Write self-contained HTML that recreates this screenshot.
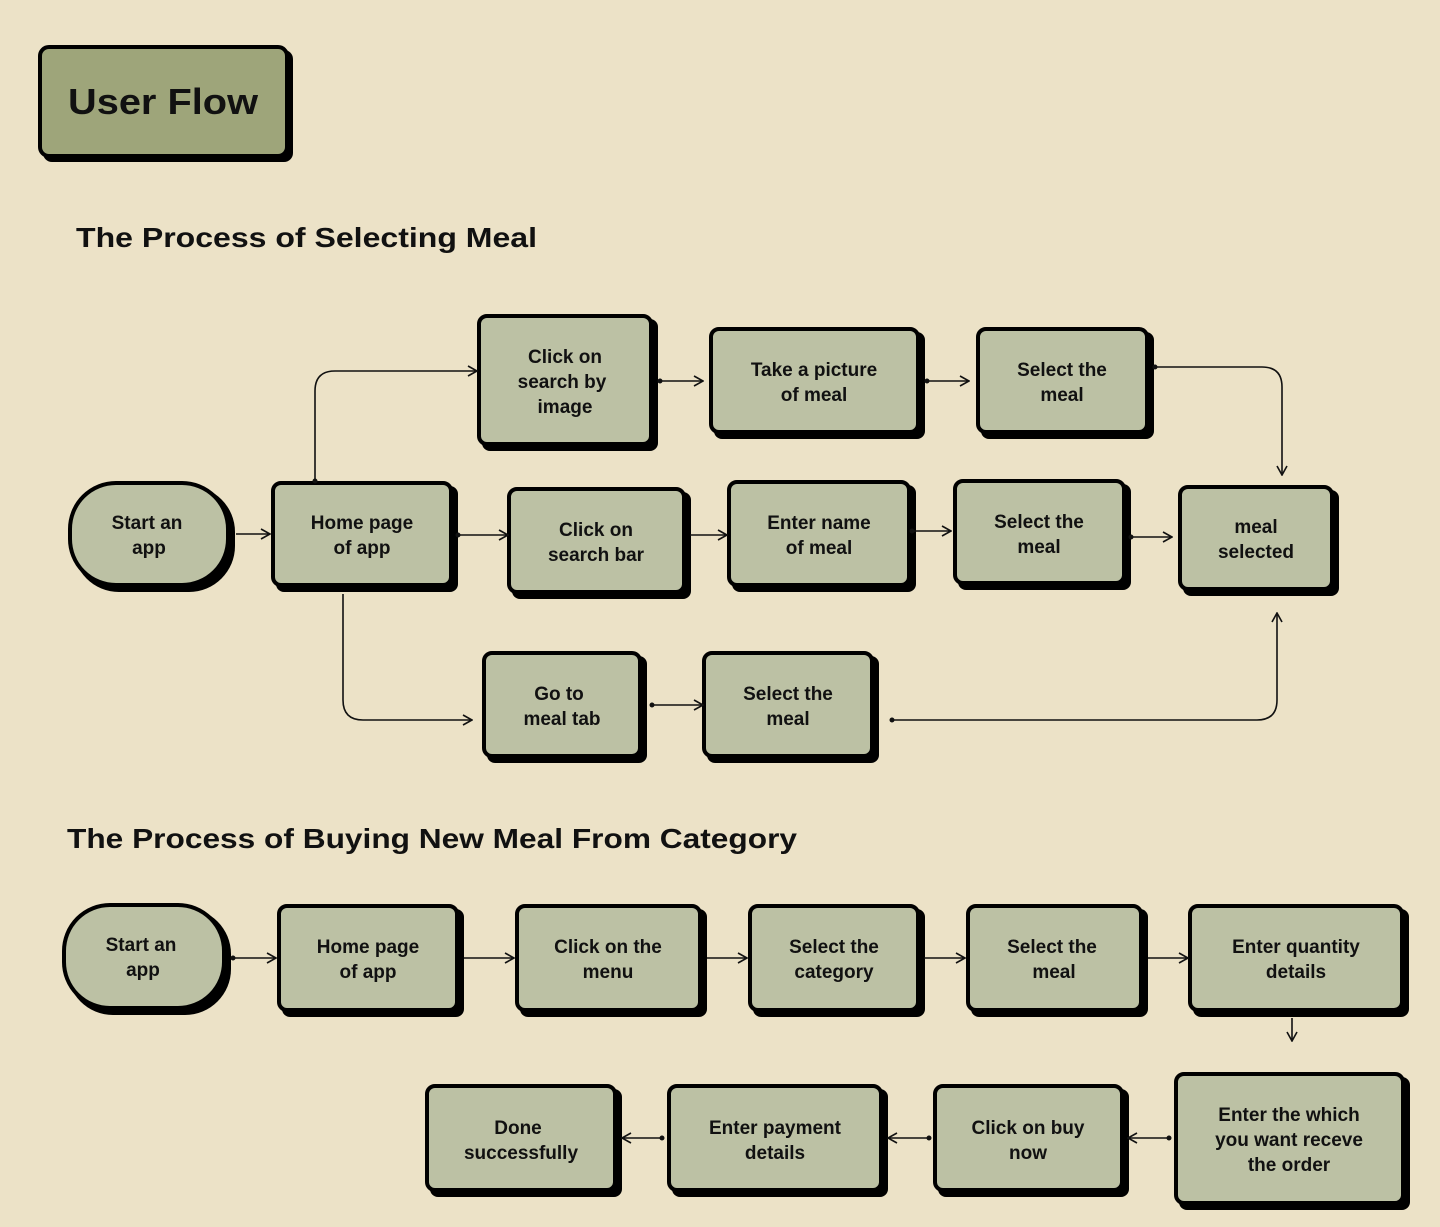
<!DOCTYPE html>
<html><head><meta charset="utf-8"><style>
html,body{margin:0;padding:0;background:#ece2c7;}
svg{display:block}
text{font-family:"Liberation Sans",sans-serif;font-weight:bold;fill:#111;}
.t{font-size:19px;text-anchor:middle;}
.ln{fill:none;stroke:#111;stroke-width:1.6;}
</style></head><body>
<svg width="1440" height="1227" viewBox="0 0 1440 1227" xmlns="http://www.w3.org/2000/svg">
<defs>
<marker id="a" viewBox="0 0 12 12" refX="11" refY="6" markerWidth="12" markerHeight="12" markerUnits="userSpaceOnUse" orient="auto">
<path d="M2,1 L11,6 L2,11" fill="none" stroke="#111" stroke-width="1.6"/></marker>
<marker id="d" viewBox="0 0 6 6" refX="3" refY="3" markerWidth="6" markerHeight="6" markerUnits="userSpaceOnUse"><circle cx="3" cy="3" r="2.5" fill="#111"/></marker>
</defs>
<rect width="1440" height="1227" fill="#ece2c7"/>
<rect x="43" y="50" width="250" height="112" rx="9" fill="#000"/>
<rect x="40" y="47" width="247" height="109" rx="9" fill="#9ea57a" stroke="#000" stroke-width="4"/>
<text x="68" y="114" style="font-size:36px" textLength="190" lengthAdjust="spacingAndGlyphs">User Flow</text>
<text x="76" y="247" style="font-size:28px" textLength="461" lengthAdjust="spacingAndGlyphs">The Process of Selecting Meal</text>
<text x="67" y="848" style="font-size:28px" textLength="730" lengthAdjust="spacingAndGlyphs">The Process of Buying New Meal From Category</text>

<g id="boxes">
<rect x="73" y="486" width="162" height="106" rx="46" fill="#000"/>
<rect x="70" y="483" width="158" height="102" rx="46" fill="#bcc1a4" stroke="#000" stroke-width="4"/>
<rect x="276" y="486" width="182" height="106" rx="8" fill="#000"/>
<rect x="273" y="483" width="178" height="102" rx="8" fill="#bcc1a4" stroke="#000" stroke-width="4"/>
<rect x="482" y="319" width="176" height="132" rx="8" fill="#000"/>
<rect x="479" y="316" width="172" height="128" rx="8" fill="#bcc1a4" stroke="#000" stroke-width="4"/>
<rect x="714" y="332" width="211" height="107" rx="8" fill="#000"/>
<rect x="711" y="329" width="207" height="103" rx="8" fill="#bcc1a4" stroke="#000" stroke-width="4"/>
<rect x="981" y="332" width="173" height="107" rx="8" fill="#000"/>
<rect x="978" y="329" width="169" height="103" rx="8" fill="#bcc1a4" stroke="#000" stroke-width="4"/>
<rect x="512" y="492" width="179" height="107" rx="8" fill="#000"/>
<rect x="509" y="489" width="175" height="103" rx="8" fill="#bcc1a4" stroke="#000" stroke-width="4"/>
<rect x="732" y="485" width="184" height="107" rx="8" fill="#000"/>
<rect x="729" y="482" width="180" height="103" rx="8" fill="#bcc1a4" stroke="#000" stroke-width="4"/>
<rect x="958" y="484" width="173" height="106" rx="8" fill="#000"/>
<rect x="955" y="481" width="169" height="102" rx="8" fill="#bcc1a4" stroke="#000" stroke-width="4"/>
<rect x="1183" y="490" width="156" height="106" rx="8" fill="#000"/>
<rect x="1180" y="487" width="152" height="102" rx="8" fill="#bcc1a4" stroke="#000" stroke-width="4"/>
<rect x="487" y="656" width="160" height="107" rx="8" fill="#000"/>
<rect x="484" y="653" width="156" height="103" rx="8" fill="#bcc1a4" stroke="#000" stroke-width="4"/>
<rect x="707" y="656" width="172" height="107" rx="8" fill="#000"/>
<rect x="704" y="653" width="168" height="103" rx="8" fill="#bcc1a4" stroke="#000" stroke-width="4"/>

<rect x="67" y="908" width="164" height="107" rx="46" fill="#000"/>
<rect x="64" y="905" width="160" height="103" rx="46" fill="#bcc1a4" stroke="#000" stroke-width="4"/>
<rect x="282" y="909" width="182" height="108" rx="8" fill="#000"/>
<rect x="279" y="906" width="178" height="104" rx="8" fill="#bcc1a4" stroke="#000" stroke-width="4"/>
<rect x="520" y="909" width="187" height="108" rx="8" fill="#000"/>
<rect x="517" y="906" width="183" height="104" rx="8" fill="#bcc1a4" stroke="#000" stroke-width="4"/>
<rect x="753" y="909" width="172" height="108" rx="8" fill="#000"/>
<rect x="750" y="906" width="168" height="104" rx="8" fill="#bcc1a4" stroke="#000" stroke-width="4"/>
<rect x="971" y="909" width="177" height="108" rx="8" fill="#000"/>
<rect x="968" y="906" width="173" height="104" rx="8" fill="#bcc1a4" stroke="#000" stroke-width="4"/>
<rect x="1193" y="909" width="216" height="108" rx="8" fill="#000"/>
<rect x="1190" y="906" width="212" height="104" rx="8" fill="#bcc1a4" stroke="#000" stroke-width="4"/>
<rect x="1179" y="1077" width="231" height="133" rx="8" fill="#000"/>
<rect x="1176" y="1074" width="227" height="129" rx="8" fill="#bcc1a4" stroke="#000" stroke-width="4"/>
<rect x="938" y="1089" width="191" height="108" rx="8" fill="#000"/>
<rect x="935" y="1086" width="187" height="104" rx="8" fill="#bcc1a4" stroke="#000" stroke-width="4"/>
<rect x="672" y="1089" width="216" height="108" rx="8" fill="#000"/>
<rect x="669" y="1086" width="212" height="104" rx="8" fill="#bcc1a4" stroke="#000" stroke-width="4"/>
<rect x="430" y="1089" width="192" height="108" rx="8" fill="#000"/>
<rect x="427" y="1086" width="188" height="104" rx="8" fill="#bcc1a4" stroke="#000" stroke-width="4"/>
</g>

<g>
<text class="t" x="147" y="529">Start an</text><text class="t" x="149" y="554">app</text>
<text class="t" x="362" y="529">Home page</text><text class="t" x="362" y="554">of app</text>
<text class="t" x="565" y="363">Click on</text><text class="t" x="562" y="388">search by</text><text class="t" x="565" y="413">image</text>
<text class="t" x="814" y="376">Take a picture</text><text class="t" x="814" y="401">of meal</text>
<text class="t" x="1062" y="376">Select the</text><text class="t" x="1062" y="401">meal</text>
<text class="t" x="596" y="536">Click on</text><text class="t" x="596" y="561">search bar</text>
<text class="t" x="819" y="529">Enter name</text><text class="t" x="819" y="554">of meal</text>
<text class="t" x="1039" y="528">Select the</text><text class="t" x="1039" y="553">meal</text>
<text class="t" x="1256" y="533">meal</text><text class="t" x="1256" y="558">selected</text>
<text class="t" x="559" y="700">Go to</text><text class="t" x="562" y="725">meal tab</text>
<text class="t" x="788" y="700">Select the</text><text class="t" x="788" y="725">meal</text>

<text class="t" x="141" y="951">Start an</text><text class="t" x="143" y="976">app</text>
<text class="t" x="368" y="953">Home page</text><text class="t" x="368" y="978">of app</text>
<text class="t" x="608" y="953">Click on the</text><text class="t" x="608" y="978">menu</text>
<text class="t" x="834" y="953">Select the</text><text class="t" x="834" y="978">category</text>
<text class="t" x="1052" y="953">Select the</text><text class="t" x="1054" y="978">meal</text>
<text class="t" x="1296" y="953">Enter quantity</text><text class="t" x="1296" y="978">details</text>
<text class="t" x="1289" y="1121">Enter the which</text><text class="t" x="1289" y="1146">you want receve</text><text class="t" x="1289" y="1171">the order</text>
<text class="t" x="1028" y="1134">Click on buy</text><text class="t" x="1028" y="1159">now</text>
<text class="t" x="775" y="1134">Enter payment</text><text class="t" x="775" y="1159">details</text>
<text class="t" x="518" y="1134">Done</text><text class="t" x="521" y="1159">successfully</text>
</g>

<g>
<path class="ln" d="M236,534 H270" marker-end="url(#a)"/>
<path class="ln" d="M315,481 V391 Q315,371 335,371 H477" marker-start="url(#d)" marker-end="url(#a)"/>
<path class="ln" d="M660,381 H703" marker-start="url(#d)" marker-end="url(#a)"/>
<path class="ln" d="M927,381 H969" marker-start="url(#d)" marker-end="url(#a)"/>
<path class="ln" d="M1155,367 H1262 Q1282,367 1282,387 V475" marker-start="url(#d)" marker-end="url(#a)"/>
<path class="ln" d="M458,535 H508" marker-start="url(#d)" marker-end="url(#a)"/>
<path class="ln" d="M690,535 H727" marker-end="url(#a)"/>
<path class="ln" d="M912,531 H951" marker-start="url(#d)" marker-end="url(#a)"/>
<path class="ln" d="M1131,537 H1172" marker-start="url(#d)" marker-end="url(#a)"/>
<path class="ln" d="M343,594 V700 Q343,720 363,720 H472" marker-end="url(#a)"/>
<path class="ln" d="M652,705 H703" marker-start="url(#d)" marker-end="url(#a)"/>
<path class="ln" d="M892,720 H1257 Q1277,720 1277,700 V613" marker-start="url(#d)" marker-end="url(#a)"/>
<path class="ln" d="M233,958 H276" marker-start="url(#d)" marker-end="url(#a)"/>
<path class="ln" d="M464,958 H514" marker-end="url(#a)"/>
<path class="ln" d="M707,958 H747" marker-end="url(#a)"/>
<path class="ln" d="M924,958 H965" marker-end="url(#a)"/>
<path class="ln" d="M1148,958 H1188" marker-end="url(#a)"/>
<path class="ln" d="M1292,1018 V1041" marker-end="url(#a)"/>
<path class="ln" d="M1169,1138 H1128" marker-start="url(#d)" marker-end="url(#a)"/>
<path class="ln" d="M929,1138 H888" marker-start="url(#d)" marker-end="url(#a)"/>
<path class="ln" d="M662,1138 H622" marker-start="url(#d)" marker-end="url(#a)"/>
</g>
</svg>
</body></html>
